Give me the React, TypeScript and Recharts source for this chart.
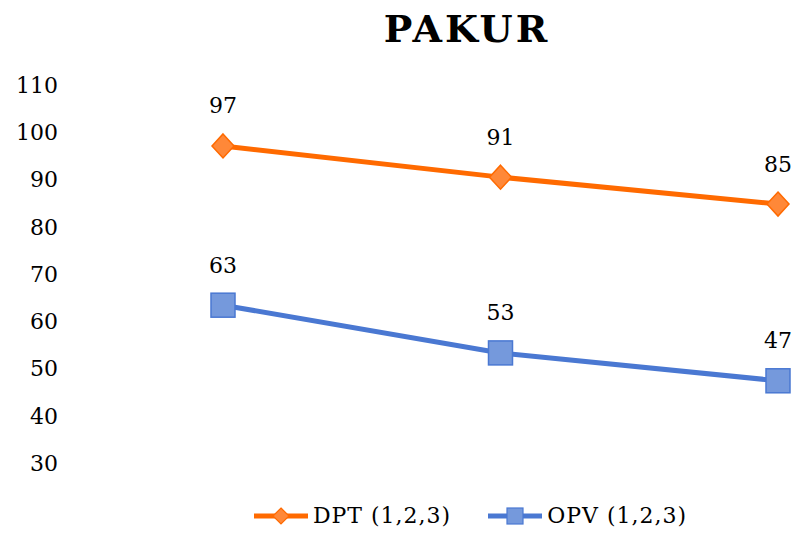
import React from "react";
import { LineChart, Line, XAxis, YAxis, Legend, LabelList } from "recharts";

const categories = ["1", "2", "3"];
const dptValues = [97.1, 90.5, 84.8];
const opvValues = [63.4, 53.3, 47.4];
const yTicks = [30, 40, 50, 60, 70, 80, 90, 100, 110];
const seriesNames = ["DPT (1,2,3)", "OPV (1,2,3)"];
const title = "PAKUR";

const data = categories.map((c, i) => ({ cat: c, dpt: dptValues[i], opv: opvValues[i] }));

const FONT = "'DejaVu Serif', serif";
const ORANGE = "#FF6A00";
const ORANGE_FILL = "#FF8838";
const BLUE = "#4A78D2";
const BLUE_FILL = "#7599DC";

const Diamond = (props: any) => {
  const { cx, cy, index } = props;
  if (cx == null || cy == null) return null;
  const rx = 11;
  const ry = 12;
  return (
    <path
      key={`d-${index}`}
      d={`M${cx},${cy - ry} L${cx + rx},${cy} L${cx},${cy + ry} L${cx - rx},${cy} Z`}
      fill={ORANGE_FILL}
      stroke={ORANGE}
      strokeWidth={1.5}
    />
  );
};

const Square = (props: any) => {
  const { cx, cy, index } = props;
  if (cx == null || cy == null) return null;
  const s = 12;
  return (
    <rect
      key={`s-${index}`}
      x={cx - s}
      y={cy - s}
      width={2 * s}
      height={2 * s}
      fill={BLUE_FILL}
      stroke={BLUE}
      strokeWidth={1.5}
    />
  );
};

const renderLabel = (props: any) => {
  const { x, y, value, index } = props;
  return (
    <text
      key={`l-${index}`}
      x={x}
      y={y - 40}
      textAnchor="middle"
      dominantBaseline="central"
      fontFamily={FONT}
      fontSize={22}
      fill="#000"
    >
      {Math.round(value)}
    </text>
  );
};

const LegendContent = () => (
  <div style={{ display: "flex", justifyContent: "center", alignItems: "center", fontFamily: FONT, fontSize: 22, color: "#000", paddingLeft: 140 }}>
    <svg width={56} height={20} style={{ marginRight: 4 }}>
      <line x1={1} y1={10} x2={55} y2={10} stroke={ORANGE} strokeWidth={5} />
      <path d="M28,2 L36,10 L28,18 L20,10 Z" fill={ORANGE_FILL} stroke={ORANGE} strokeWidth={1.2} />
    </svg>
    <span style={{ marginRight: 36, letterSpacing: 1 }}>{seriesNames[0]}</span>
    <svg width={56} height={20} style={{ marginRight: 4 }}>
      <line x1={1} y1={10} x2={55} y2={10} stroke={BLUE} strokeWidth={5} />
      <rect x={20} y={2} width={16} height={16} fill={BLUE_FILL} stroke={BLUE} strokeWidth={1.2} />
    </svg>
    <span style={{ letterSpacing: 1 }}>{seriesNames[1]}</span>
  </div>
);

export default function App() {
  return (
    <div style={{ position: "relative", width: 784, height: 527 }}>
      <div
        style={{
          position: "absolute",
          left: 0,
          width: 784,
          top: 1,
          textAlign: "center",
          paddingLeft: 134,
          boxSizing: "border-box",
          fontFamily: FONT,
          fontWeight: "bold",
          fontSize: 38,
          letterSpacing: 3,
          lineHeight: "40px",
          color: "#000",
        }}
      >
        {title}
      </div>
      <LineChart width={784} height={527} data={data} margin={{ top: 77, right: 0, bottom: 47, left: 0 }}>
        <XAxis dataKey="cat" hide padding={{ left: 157, right: 14 }} />
        <YAxis
          domain={[30, 110]}
          ticks={yTicks}
          width={58}
          axisLine={false}
          tickLine={false}
          interval={0}
          tick={{ fontFamily: FONT, fontSize: 22, fill: "#000" }}
        />
        <Legend
          verticalAlign="bottom"
          content={<LegendContent />}
          wrapperStyle={{ bottom: 7 }}
        />
        <Line
          type="linear"
          dataKey="dpt"
          name={seriesNames[0]}
          stroke={ORANGE}
          strokeWidth={5}
          dot={Diamond}
          activeDot={false}
          isAnimationActive={false}
        >
          <LabelList dataKey="dpt" content={renderLabel} />
        </Line>
        <Line
          type="linear"
          dataKey="opv"
          name={seriesNames[1]}
          stroke={BLUE}
          strokeWidth={5}
          dot={Square}
          activeDot={false}
          isAnimationActive={false}
        >
          <LabelList dataKey="opv" content={renderLabel} />
        </Line>
      </LineChart>
    </div>
  );
}
